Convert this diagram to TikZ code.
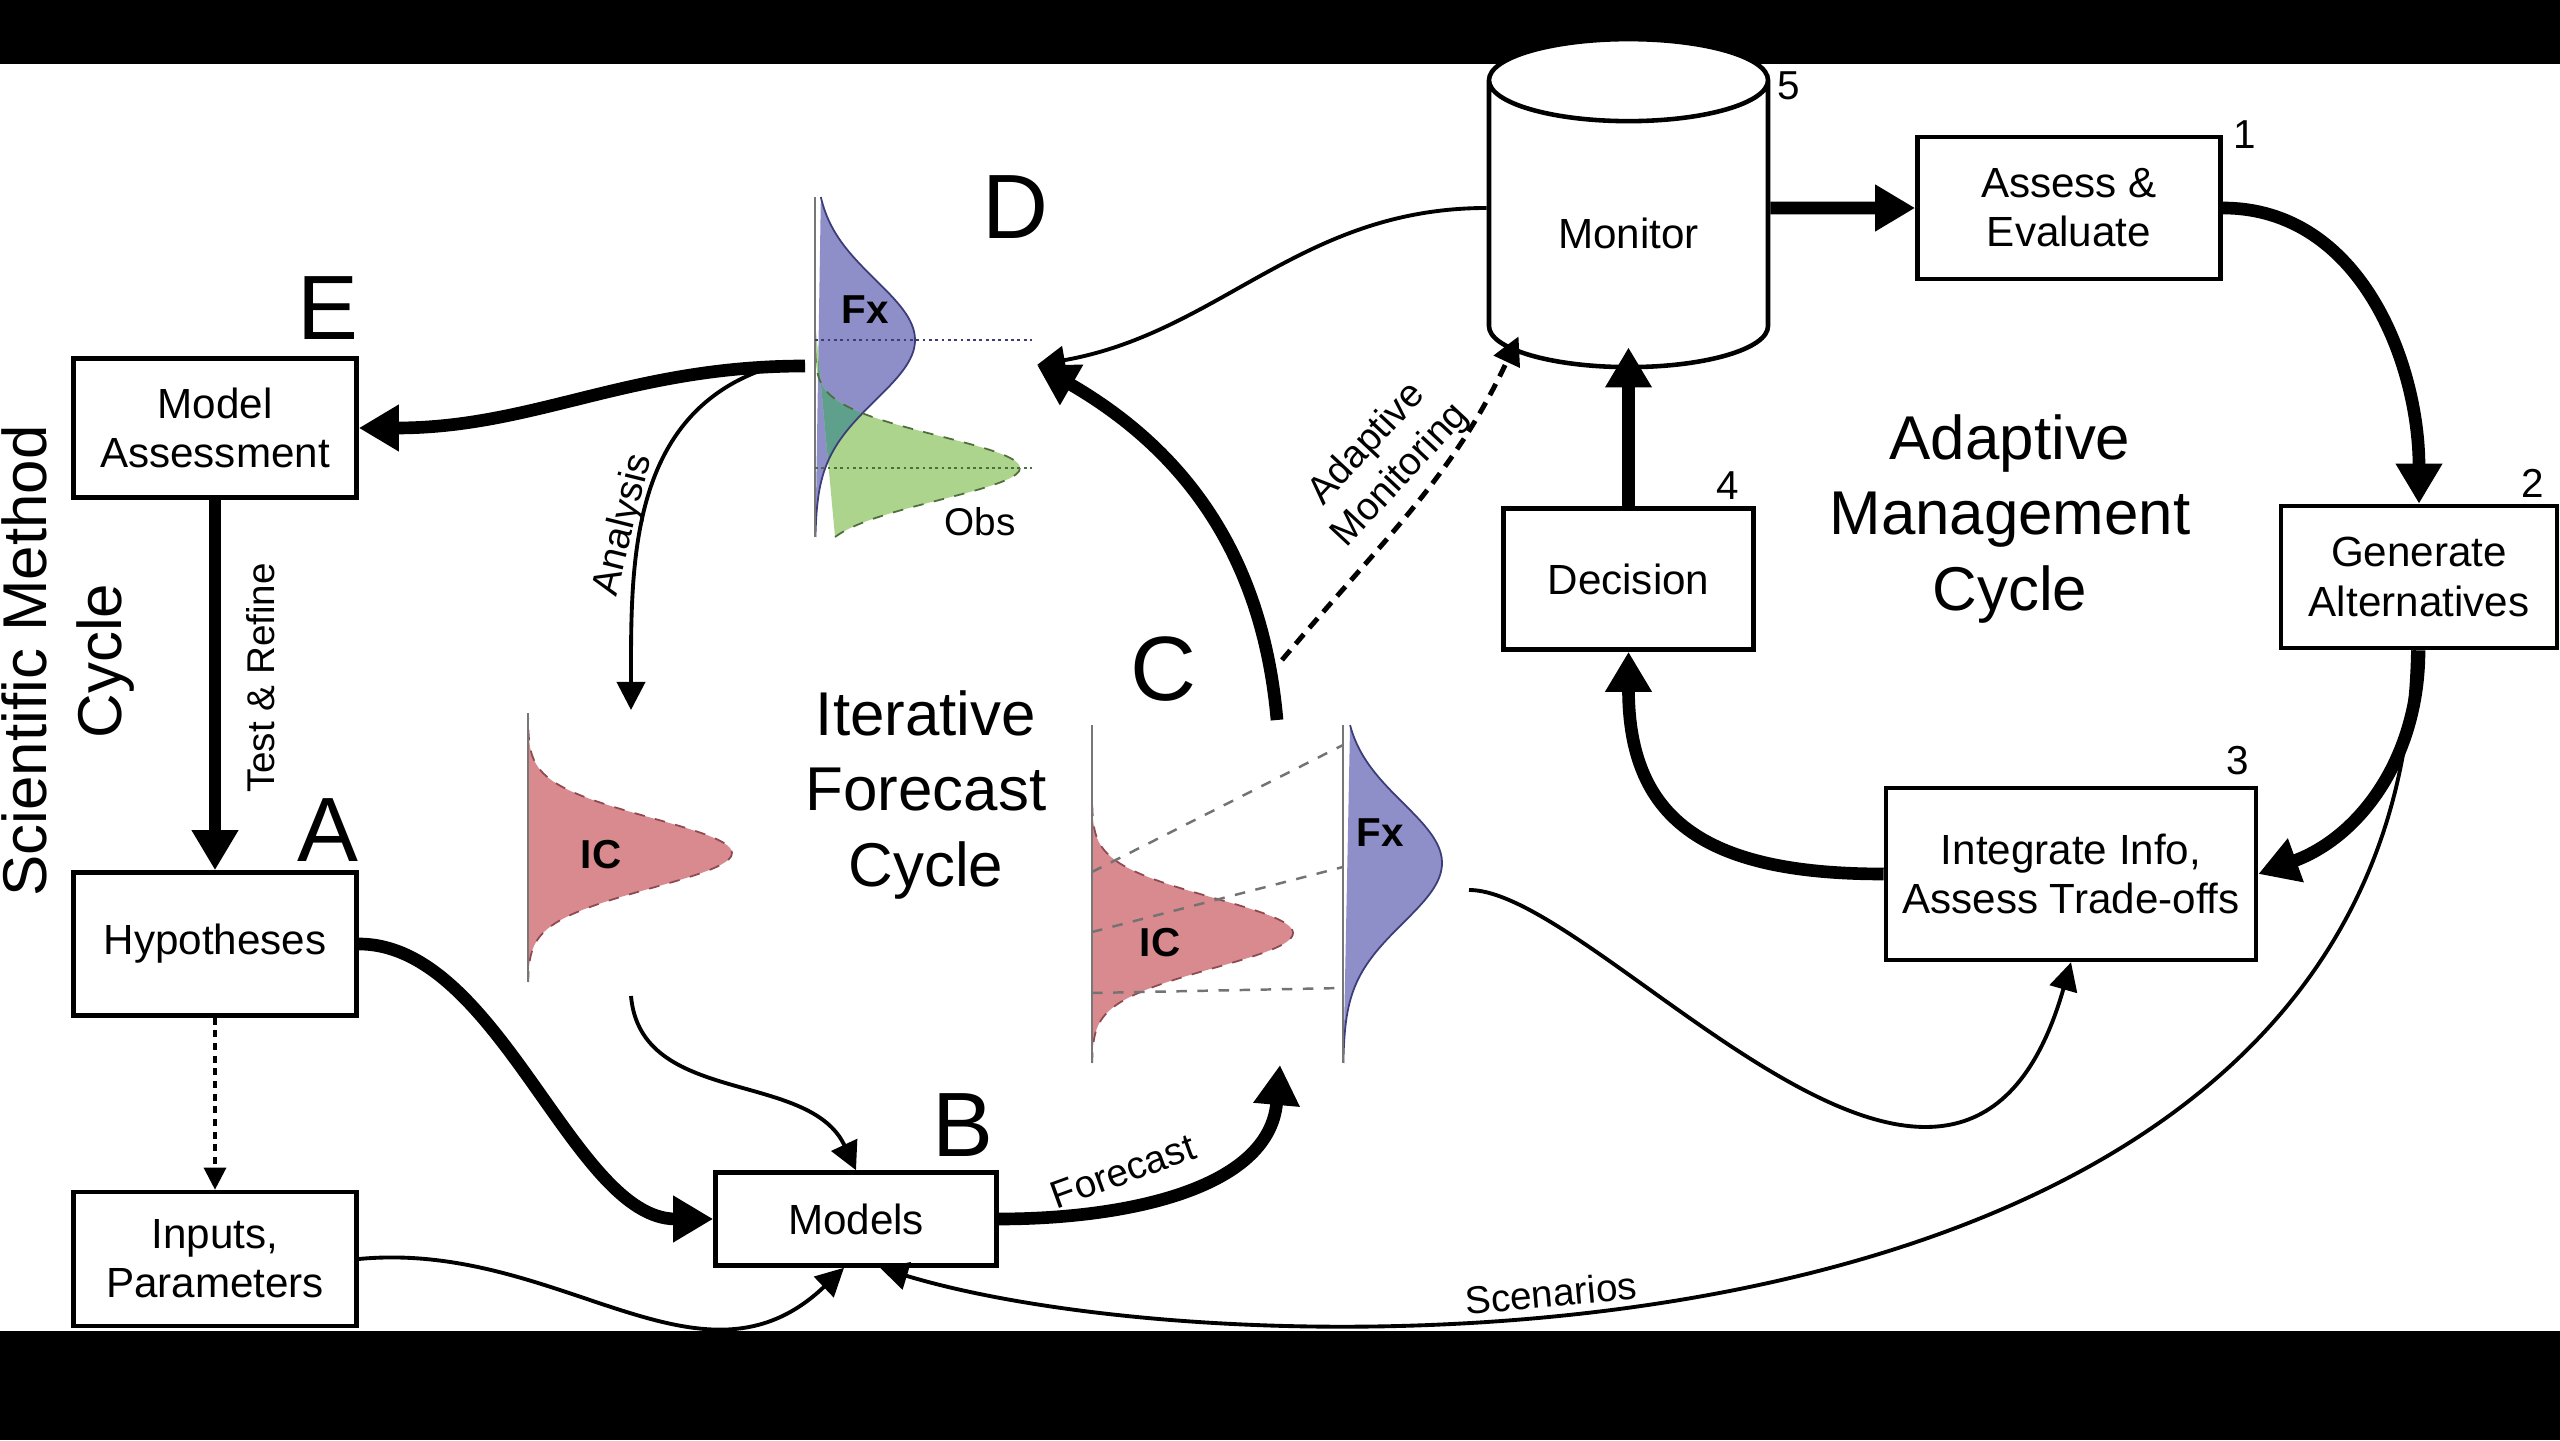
\documentclass[tikz,border=0pt]{standalone}
\usepackage{fontspec}
\setmainfont{Liberation Sans}
\usetikzlibrary{positioning, arrows.meta, shapes.geometric, calc}
\definecolor{icRed}{HTML}{D98A8F}
\definecolor{icLine}{HTML}{8E4A50}
\definecolor{fxBlue}{HTML}{8E8EC8}
\definecolor{fxLine}{HTML}{3C3C7A}
\definecolor{obsGreen}{HTML}{ACD48C}
\definecolor{obsLine}{HTML}{4F6E3C}
\definecolor{mixTeal}{HTML}{5FA08C}
\definecolor{axGray}{HTML}{777777}
\newcommand{\boxfont}{\fontsize{12}{14}\selectfont}
\tikzset{
  every node/.style={font=\boxfont},
  box/.style={draw, line width=1.3pt, fill=white, align=center, inner sep=2pt},
  arr/.style={-{Triangle[length=2.8mm, width=2.8mm]}, line width=1.1pt},
  arrd/.style={arr, dash pattern=on 3.6pt off 2.4pt, line width=1.4pt},
  arrdot/.style={-{Triangle[length=2.2mm, width=2.2mm]}, line width=0.9pt, dash pattern=on 2pt off 1.6pt},
  arrBig/.style={-{Triangle[length=4mm, width=4.4mm]}, line width=3.6pt},
  letter/.style={font=\fontsize{26}{26}\selectfont, inner sep=0pt},
  cyc/.style={font=\fontsize{17.6}{21.5}\selectfont, align=center},
  num/.style={font=\fontsize{11.5}{12}\selectfont, inner sep=0pt},
  lbl/.style={font=\fontsize{11}{13}\selectfont, align=center, inner sep=1pt},
  distLbl/.style={font=\fontsize{11.5}{12}\selectfont\bfseries, inner sep=0pt},
  distAxis/.style={draw=axGray, line width=0.7pt},
  mapLine/.style={black!55, dashed, line width=0.7pt},
}

\begin{document}
\begin{tikzpicture}
  \fill[black] (0,0) rectangle (25.6,14.4);
  \fill[white] (0,1.09) rectangle (25.6,13.76);
  \useasboundingbox (0,0) rectangle (25.6,14.4);

  % scientific method cycle
  \node[cyc, rotate=90] (sci) at (0.68,7.79) {Scientific Method\\Cycle};
  \node[box, minimum width=2.83cm, minimum height=1.39cm] (massess) at (2.15,10.12) {Model\\Assessment};
  \node[box, minimum width=2.83cm, minimum height=1.43cm] (hyp) at (2.15,4.96) {Hypotheses};
  \node[box, minimum width=2.83cm, minimum height=1.34cm] (inputs) at (2.15,1.81) {Inputs,\\Parameters};
  \node[box, minimum width=2.81cm, minimum height=0.93cm] (models) at (8.56,2.21) {Models};
  \node[letter, above left=1.6mm and 0mm of massess.north east] (labE) {E};
  \node[letter, above left=0.8mm and 0mm of hyp.north east] (labA) {A};
  \node[letter, above left=1.3mm and 0.5mm of models.north east] (labB) {B};

  % analysis distribution
  \fill[icRed] plot[domain=4.58:7.27, samples=80, smooth, variable=\t]
    ({5.28+2.04*exp(-0.5*((\t-5.87)/0.35)^2)}, \t) -- cycle;
  \draw[icLine, dashed, line width=0.5pt] plot[domain=4.58:7.27, samples=80, smooth, variable=\t]
    ({5.28+2.04*exp(-0.5*((\t-5.87)/0.35)^2)}, \t);
  \draw[distAxis] (5.28,4.58) -- (5.28,7.27);
  \node[distLbl] (ic1Lbl) at (6.01,5.85) {IC};
  \node[cyc] (ifc) at (9.26,6.45) {Iterative\\Forecast\\Cycle};

  % forecast step
  \fill[icRed] plot[domain=3.77:7.15, samples=80, smooth, variable=\t]
    ({10.92+2.01*exp(-0.5*((\t-5.07)/0.35)^2)}, \t) -- cycle;
  \draw[icLine, dashed, line width=0.5pt] plot[domain=3.77:7.15, samples=80, smooth, variable=\t]
    ({10.92+2.01*exp(-0.5*((\t-5.07)/0.35)^2)}, \t);
  \fill[fxBlue] plot[domain=3.77:7.15, samples=80, smooth, variable=\t]
    ({13.43+0.99*exp(-0.5*((\t-5.77)/0.6)^2)}, \t) -- cycle;
  \draw[fxLine, line width=0.5pt] plot[domain=3.77:7.15, samples=80, smooth, variable=\t]
    ({13.43+0.99*exp(-0.5*((\t-5.77)/0.6)^2)}, \t);
  \draw[mapLine] (10.92,5.68) -- (13.43,6.95);
  \draw[mapLine] (10.92,5.08) -- (13.43,5.73);
  \draw[mapLine] (10.92,4.47) -- (13.43,4.52);
  \draw[distAxis] (10.92,3.77) -- (10.92,7.15);
  \draw[distAxis] (13.43,3.77) -- (13.43,7.15);
  \node[distLbl] (ic2Lbl) at (11.60,4.97) {IC};
  \node[distLbl] (fx2Lbl) at (13.80,6.07) {Fx};
  \node[letter] (labC) at (11.63,7.71) {C};

  % data assimilation
  \fill[fxBlue] plot[domain=9.03:12.43, samples=80, smooth, variable=\t]
    ({8.15+1.0*exp(-0.5*((\t-11.0)/0.6)^2)}, \t) -- cycle;
  \fill[obsGreen] plot[domain=9.03:11.2, samples=60, smooth, variable=\t]
    ({8.15+2.05*exp(-0.5*((\t-9.72)/0.32)^2)}, \t) -- cycle;
  \begin{scope}
    \clip plot[domain=9.03:12.43, samples=80, smooth, variable=\t]
      ({8.15+1.0*exp(-0.5*((\t-11.0)/0.6)^2)}, \t) -- cycle;
    \fill[mixTeal] plot[domain=9.03:11.2, samples=60, smooth, variable=\t]
      ({8.15+2.05*exp(-0.5*((\t-9.72)/0.32)^2)}, \t) -- cycle;
  \end{scope}
  \draw[fxLine, line width=0.5pt] plot[domain=9.03:12.43, samples=80, smooth, variable=\t]
    ({8.15+1.0*exp(-0.5*((\t-11.0)/0.6)^2)}, \t);
  \draw[obsLine, dashed, line width=0.5pt] plot[domain=9.03:11.2, samples=60, smooth, variable=\t]
    ({8.15+2.05*exp(-0.5*((\t-9.72)/0.32)^2)}, \t);
  \draw[distAxis] (8.15,9.03) -- (8.15,12.43);
  \draw[fxLine, densely dotted, line width=0.8pt] (8.15,11.0) -- (10.32,11.0);
  \draw[obsLine, densely dotted, line width=0.8pt] (8.15,9.72) -- (10.32,9.72);
  \node[distLbl] (fxLbl) at (8.65,11.30) {Fx};
  \node[lbl] (obsLbl) at (9.80,9.18) {Obs};
  \node[letter] (labD) at (10.15,12.33) {D};

  \coordinate (dL) at (8.05,10.74);
  \coordinate (dR) at (10.37,10.75);
  \coordinate (dA) at (7.62,10.70);
  \coordinate (icTop) at (6.31,7.30);
  \coordinate (icBot) at (6.31,4.44);
  \coordinate (cTop) at (12.77,7.20);
  \coordinate (cBot) at (12.80,3.75);
  \coordinate (cAM) at (12.82,7.80);
  \coordinate (cFx) at (14.69,5.50);

  % adaptive management cycle
  \node[draw, line width=1.3pt, fill=white, cylinder, shape border rotate=90, aspect=0.5,
        minimum width=2.79cm, minimum height=3.28cm] (monitor) at (16.285,12.07) {Monitor};
  \node[box, minimum width=3.03cm, minimum height=1.42cm] (assess) at (20.69,12.32) {Assess \&\\Evaluate};
  \node[box, minimum width=2.76cm, minimum height=1.42cm] (generate) at (24.19,8.63) {Generate\\Alternatives};
  \node[box, minimum width=2.5cm, minimum height=1.41cm] (decision) at (16.285,8.61) {Decision};
  \node[box, minimum width=3.7cm, minimum height=1.72cm] (integrate) at (20.71,5.66) {Integrate Info,\\Assess Trade-offs};
  \node[cyc] (amc) at (20.10,9.21) {Adaptive\\Management\\Cycle};
  \node[num, right=1mm of assess.north east] (n1) {1};
  \node[num, above left=0.6mm and 1.5mm of generate.north east] (n2) {2};
  \node[num, above left=1mm and 0.9mm of integrate.north east] (n3) {3};
  \node[num, above left=0.6mm and 1.6mm of decision.north east] (n4) {4};
  \node[num, right=0.6mm of monitor.east, yshift=14.7mm] (n5) {5};
  \coordinate (monIn) at ([xshift=-11mm, yshift=3.3mm]monitor.south);
  \coordinate (monBot) at ([yshift=2.2mm]monitor.south);

  % connectors
  \draw[arrBig] (massess.south) -- (hyp.north);
  \draw[arrdot] (hyp.south) -- (inputs.north);
  \draw[arrBig] (dL) to[out=180, in=0] (massess.east);
  \draw[arr] (dA) to[out=200, in=90] (icTop);
  \draw[arr] (icBot) to[out=-85, in=115] (models.north);
  \draw[arrBig] (hyp.east) to[out=0, in=180, looseness=0.8] (models.west);
  \draw[arr] (inputs.east) .. controls (5.6,2.0) and (7.0,0.35) .. ([xshift=-1.2mm]models.south);
  \draw[arrBig] (models.east) to[out=0, in=-95] (cBot);
  \draw[arrBig] (cTop) to[out=95, in=-30] (dR);
  \draw[arr] ([yshift=2.5mm]monitor.west) to[out=180, in=10] (dR);
  \draw[arrd] (cAM) to[out=50, in=-115] (monIn);
  \draw[arrBig] ([yshift=2.5mm]monitor.east) -- (assess.west);
  \draw[arrBig] (assess.east) to[out=0, in=90] (generate.north);
  \draw[arrBig] (generate.south) to[out=-90, in=20] (integrate.east);
  \draw[arrBig] (integrate.west) to[out=180, in=-90, looseness=1.3] (decision.south);
  \draw[arrBig] (decision.north) -- (monBot);
  \draw[arr] (cFx) .. controls (16.0,5.5) and (19.6,0.9) .. (integrate.south);
  \draw[arr] ([xshift=-0.6mm]generate.south) .. controls (24.0,0.5) and (12.5,0.6) .. ([xshift=2.4mm]models.south);

  \node[lbl, rotate=90] (trLbl) at (2.61,7.62) {Test \& Refine};
  \node[lbl, rotate=76] (anLbl) at (6.24,9.15) {Analysis};
  \node[lbl, rotate=20] (fcLbl) at (11.23,2.69) {Forecast};
  \node[lbl, rotate=47] (amLbl) at (13.84,9.80) {Adaptive\\Monitoring};
  \node[lbl, rotate=5] (scLbl) at (15.51,1.47) {Scenarios};
\end{tikzpicture}
\end{document}
